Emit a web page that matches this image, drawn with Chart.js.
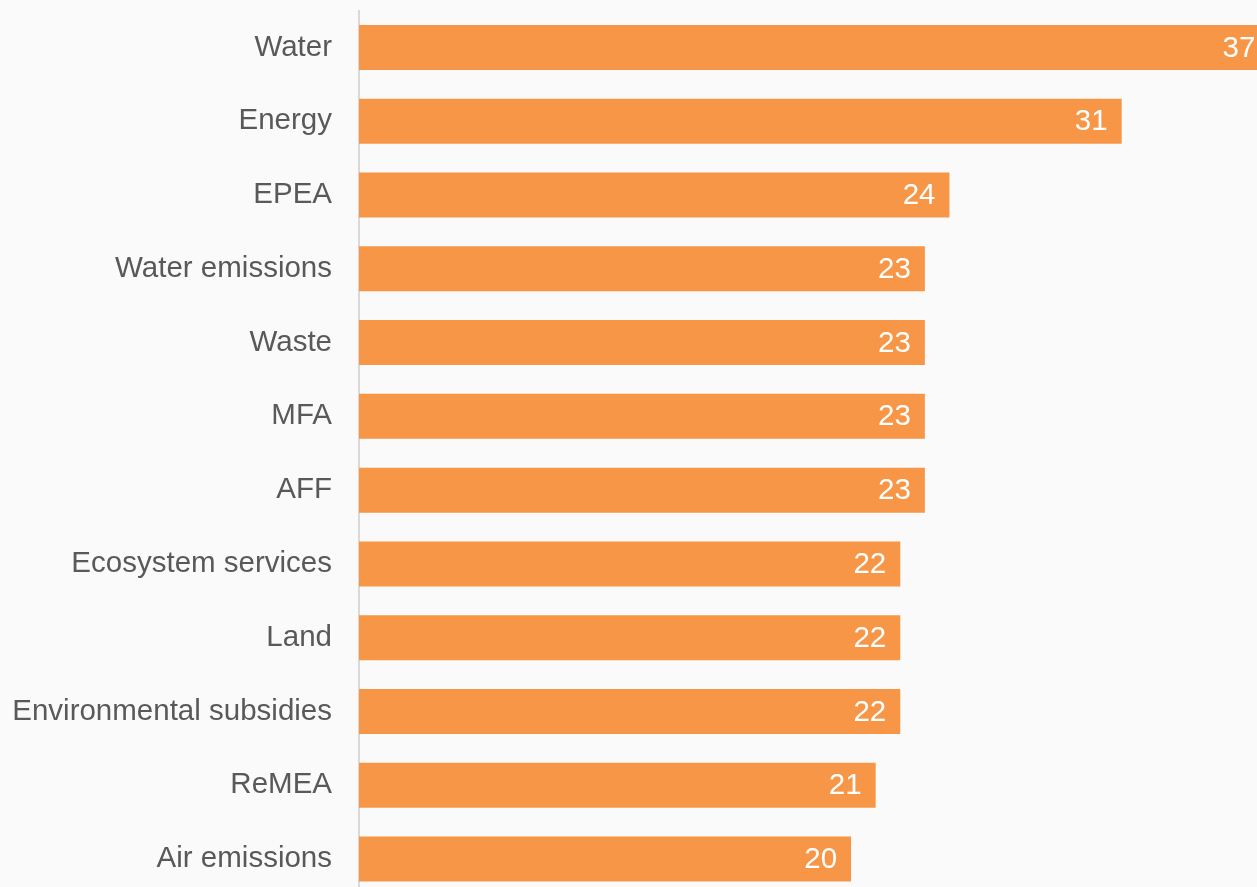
<!DOCTYPE html>
<html>
<head>
<meta charset="utf-8">
<script src="https://cdn.jsdelivr.net/npm/chart.js@4.4.1/dist/chart.umd.min.js"></script>
<style>
    html, body { margin: 0; padding: 0; background: #fafafa; overflow: hidden; }
    canvas { display: block; }
</style>
</head>
<body>
<canvas id="barChart" width="1257" height="896" style="width:1257px;height:896px"></canvas>
<script>
// Categories and values
const categories = [
    'Water', 'Energy', 'EPEA', 'Water emissions', 'Waste', 'MFA', 'AFF',
    'Ecosystem services', 'Land', 'Environmental subsidies', 'ReMEA', 'Air emissions'
];
const values = [37, 31, 24, 23, 23, 23, 23, 22, 22, 22, 21, 20];

const barColor = '#f79646';
const labelColor = '#595959';
const fontFamily = '"Liberation Sans", Arial, sans-serif';

// Paint background
const backgroundPlugin = {
    id: 'bg',
    beforeDraw(chart) {
        const ctx = chart.ctx;
        ctx.save();
        ctx.fillStyle = '#fafafa';
        ctx.fillRect(0, 0, chart.width, chart.height);
        ctx.restore();
    }
};

// White value labels inside the bar ends
const valueLabels = {
    id: 'valueLabels',
    afterDatasetsDraw(chart) {
        const ctx = chart.ctx;
        const meta = chart.getDatasetMeta(0);
        ctx.save();
        ctx.fillStyle = '#ffffff';
        ctx.font = '29.5px ' + fontFamily;
        ctx.textAlign = 'right';
        ctx.textBaseline = 'middle';
        meta.data.forEach((bar, i) => {
            ctx.fillText(String(values[i]), bar.x - 14, bar.y + 1);
        });
        ctx.restore();
    }
};

new Chart(document.getElementById('barChart'), {
    type: 'bar',
    data: {
        labels: categories,
        datasets: [{
            data: values,
            backgroundColor: barColor,
            borderWidth: 0,
            categoryPercentage: 1,
            barPercentage: 0.61
        }]
    },
    options: {
        indexAxis: 'y',
        responsive: false,
        animation: false,
        layout: { padding: { top: 10.5, right: 0, bottom: 0, left: 0 } },
        plugins: {
            legend: { display: false },
            tooltip: { enabled: false }
        },
        scales: {
            x: {
                display: false,
                min: 0,
                max: 36.5
            },
            y: {
                grid: { display: false },
                border: { display: true, color: '#d9d9d9', width: 2 },
                ticks: {
                    color: labelColor,
                    padding: 19,
                    font: { family: fontFamily, size: 29.5 }
                },
                afterFit(scale) {
                    scale.width = 359;
                    scale.paddingTop = 0;
                    scale.paddingBottom = 0;
                }
            }
        }
    },
    plugins: [backgroundPlugin, valueLabels]
});
</script>
</body>
</html>
